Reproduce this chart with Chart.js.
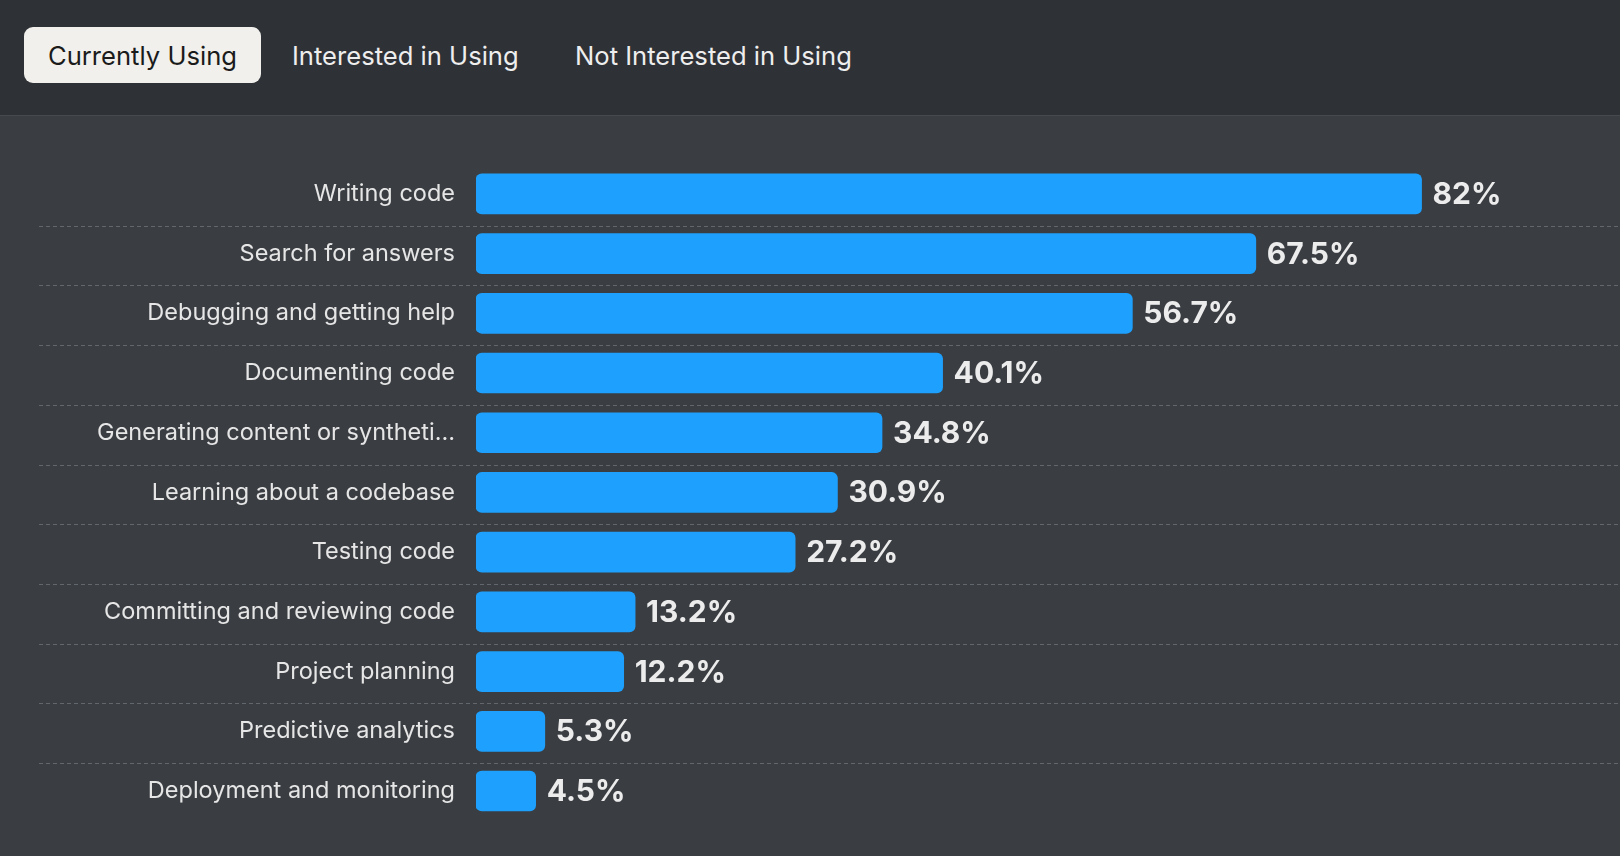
<!DOCTYPE html>
<html>
<head>
<meta charset="utf-8">
<script src="https://cdn.jsdelivr.net/npm/chart.js@4"></script>
<style>
  html, body { margin: 0; padding: 0; }
  body {
    width: 1620px; height: 856px; overflow: hidden;
    background: #3a3e43;
    font-family: Inter, "Noto Sans", sans-serif;
    position: relative;
  }
  .tabs {
    position: absolute; left: 0; top: 0; width: 1620px; height: 115px;
    background: #2e3136; border-bottom: 1px solid #464a4f;
  }
  .tab {
    position: absolute; top: 27px; height: 56px; line-height: 58px;
    font-size: 25.6px; color: #eeeeee; white-space: nowrap;
  }
  .tab.active {
    background: #f1f0ec; color: #1b1b1b; border-radius: 9px;
    padding: 0 24px;
  }
  #wrap { position: absolute; left: 0; top: 117px; width: 1620px; height: 739px; }
</style>
</head>
<body>
<div class="tabs">
  <div class="tab active" style="left:24px">Currently Using</div>
  <div class="tab" style="left:292px">Interested in Using</div>
  <div class="tab" style="left:575px">Not Interested in Using</div>
</div>
<div id="wrap"><canvas id="aiChart"></canvas></div>

<script>
// Dados do gráfico
const categorias = [
  'Writing code',
  'Search for answers',
  'Debugging and getting help',
  'Documenting code',
  'Generating content or syntheti…',
  'Learning about a codebase',
  'Testing code',
  'Committing and reviewing code',
  'Project planning',
  'Predictive analytics',
  'Deployment and monitoring'
];
const valores = [82, 67.5, 56.7, 40.1, 34.8, 30.9, 27.2, 13.2, 12.2, 5.3, 4.5];

// Linhas tracejadas entre as categorias
const linhasTracejadas = {
  id: 'linhasTracejadas',
  beforeDatasetsDraw(chart) {
    const ctx = chart.ctx;
    const y = chart.scales.y;
    ctx.save();
    ctx.strokeStyle = '#62676d';
    ctx.lineWidth = 1;
    ctx.setLineDash([4, 3]);
    for (let i = 0; i < categorias.length - 1; i++) {
      const py = Math.round((y.getPixelForValue(i) + y.getPixelForValue(i + 1)) / 2) + 2.5;
      ctx.beginPath();
      ctx.moveTo(39, py);
      ctx.lineTo(chart.width, py);
      ctx.stroke();
    }
    ctx.restore();
  }
};

// Rótulos com o valor no fim de cada barra
const rotulosValor = {
  id: 'rotulosValor',
  afterDatasetsDraw(chart) {
    const ctx = chart.ctx;
    const meta = chart.getDatasetMeta(0);
    ctx.save();
    ctx.fillStyle = '#ececec';
    ctx.font = 'bold 30px Inter, sans-serif';
    ctx.textBaseline = 'middle';
    ctx.textAlign = 'left';
    meta.data.forEach((bar, i) => {
      ctx.fillText(valores[i] + '%', bar.x + 11, bar.y + 1);
    });
    ctx.restore();
  }
};

const ctx = document.getElementById('aiChart').getContext('2d');
new Chart(ctx, {
  type: 'bar',
  data: {
    labels: categorias,
    datasets: [{
      data: valores,
      base: -0.72,
      backgroundColor: '#1ea1fe',
      borderRadius: 6,
      borderSkipped: false,
      barThickness: 40
    }]
  },
  options: {
    indexAxis: 'y', // barras na horizontal
    responsive: true,
    maintainAspectRatio: false,
    animation: false,
    layout: { padding: { top: 47, bottom: 33, left: 40, right: 107 } },
    plugins: {
      legend: { display: false },
      tooltip: { enabled: false }
    },
    scales: {
      x: { display: false, min: -0.72, max: 90 },
      y: {
        grid: { display: false, drawTicks: false },
        border: { display: false },
        ticks: {
          color: '#e6e6e6',
          padding: 21,
          font: { family: 'Inter', size: 23.5 }
        },
        afterFit(scale) { scale.width = 436; }
      }
    }
  },
  plugins: [linhasTracejadas, rotulosValor]
});
</script>
</body>
</html>
